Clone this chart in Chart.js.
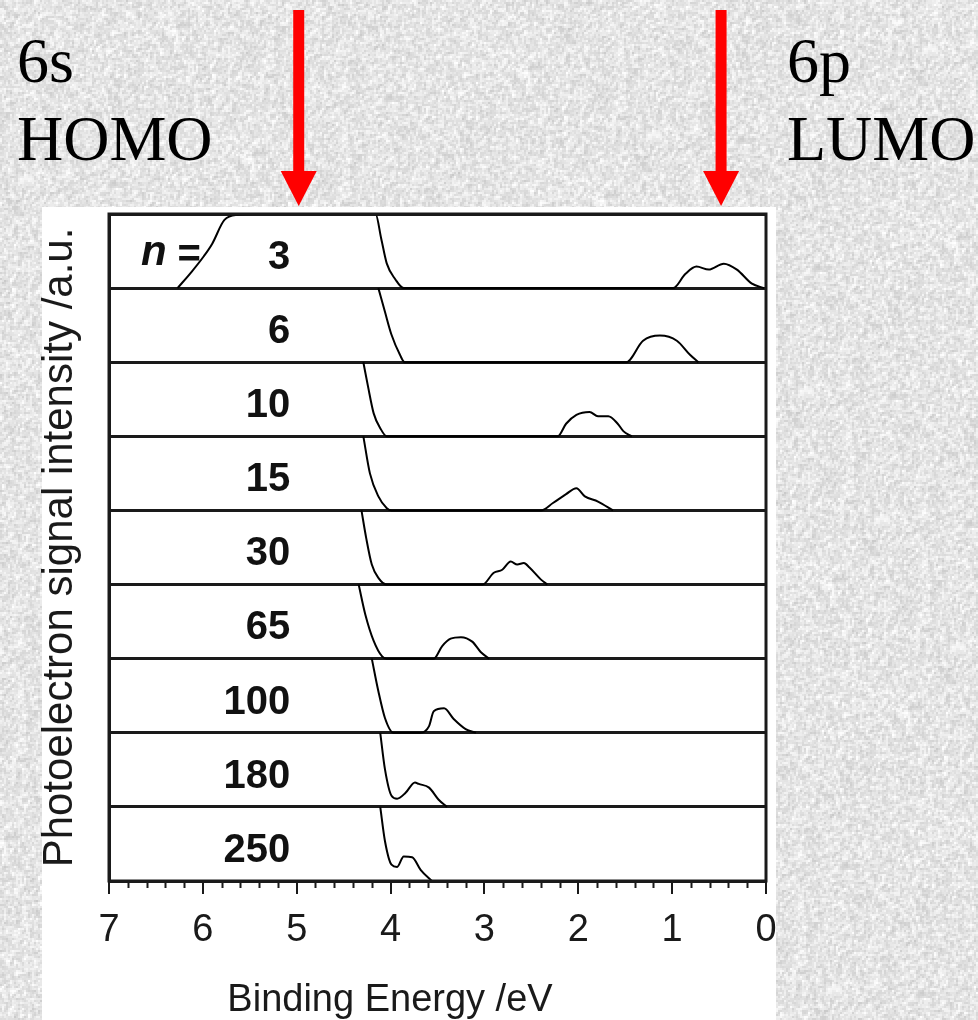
<!DOCTYPE html>
<html>
<head>
<meta charset="utf-8">
<script src="https://cdn.jsdelivr.net/npm/chart.js@4/dist/chart.umd.min.js"></script>
<style>
  html, body { margin: 0; padding: 0; background: #e6e6e6; }
  #wrap { position: relative; width: 978px; height: 1020px; }
</style>
</head>
<body>
<div id="wrap"><canvas id="pesChart" width="978" height="1020"></canvas></div>
<script>
// cluster sizes, top panel to bottom panel
const clusterSizes = [3, 6, 10, 15, 30, 65, 100, 180, 250];

// binding energy (eV) / normalised intensity for each spectrum
const be3 = [6.27, 6.12, 5.99, 5.9, 5.77, 5.62, 5.47, 4.16, 4.10, 4.04, 3.95, 3.86, 0.99, 0.86, 0.74, 0.61, 0.45, 0.31, 0.15, 0.02];
const in3 = [0, 0.22, 0.43, 0.6, 0.92, 0.99, 1.0, 1.0, 0.67, 0.33, 0.12, 0, 0, 0.19, 0.29, 0.25, 0.33, 0.25, 0.06, 0];
const be6 = [4.13, 4.06, 3.99, 3.90, 3.85, 1.49, 1.31, 1.13, 0.95, 0.81, 0.72];
const in6 = [1, 0.68, 0.37, 0.1, 0, 0, 0.29, 0.36, 0.29, 0.1, 0];
const be10 = [4.29, 4.24, 4.18, 4.11, 4.04, 2.22, 2.13, 2.02, 1.88, 1.79, 1.68, 1.58, 1.52, 1.43];
const in10 = [1, 0.67, 0.31, 0.11, 0, 0, 0.17, 0.29, 0.33, 0.27, 0.27, 0.17, 0.07, 0];
const be15 = [4.29, 4.22, 4.13, 4.04, 3.99, 2.40, 2.27, 2.13, 2.02, 1.93, 1.79, 1.63];
const in15 = [1, 0.5, 0.19, 0.03, 0, 0, 0.1, 0.22, 0.3, 0.19, 0.12, 0];
const be30 = [4.31, 4.26, 4.20, 4.13, 4.04, 3.02, 2.90, 2.81, 2.72, 2.65, 2.58, 2.52, 2.40, 2.33];
const in30 = [1, 0.63, 0.27, 0.09, 0, 0, 0.16, 0.2, 0.31, 0.27, 0.29, 0.23, 0.07, 0];
const be65 = [4.34, 4.27, 4.18, 4.09, 4.04, 3.54, 3.45, 3.36, 3.25, 3.13, 3.04, 2.95];
const in65 = [1, 0.6, 0.24, 0.03, 0, 0, 0.17, 0.27, 0.29, 0.23, 0.09, 0];
const be100 = [4.20, 4.13, 4.06, 3.97, 3.68, 3.59, 3.54, 3.43, 3.33, 3.20, 3.09];
const in100 = [1, 0.56, 0.2, 0, 0, 0.09, 0.29, 0.33, 0.19, 0.05, 0];
const be180 = [4.11, 4.06, 3.99, 3.93, 3.84, 3.74, 3.70, 3.59, 3.49, 3.40];
const in180 = [1, 0.51, 0.15, 0.11, 0.19, 0.33, 0.31, 0.26, 0.1, 0];
const be250 = [4.11, 4.06, 3.99, 3.93, 3.86, 3.77, 3.68, 3.56];
const in250 = [1, 0.54, 0.22, 0.19, 0.33, 0.32, 0.15, 0];

const energies = [be3, be6, be10, be15, be30, be65, be100, be180, be250];
const intensities = [in3, in6, in10, in15, in30, in65, in100, in180, in250];

// x axis ticks and the two orbital markers
const xTicks = [7, 6, 5, 4, 3, 2, 1, 0];
const homoEnergy = 5.0;
const lumoEnergy = 0.5;

const nPanels = clusterSizes.length;

// speckled grey page background (fixed seed so every render is the same)
function makeNoise(w, h) {
    const c = document.createElement('canvas');
    c.width = w; c.height = h;
    const g = c.getContext('2d');
    const img = g.createImageData(w, h);
    let seed = 12345;
    const rnd = () => { seed = (seed * 1103515245 + 12345) & 0x7fffffff; return seed / 0x7fffffff; };
    const cw = Math.ceil(w / 2) + 1, ch = Math.ceil(h / 2) + 1;
    const cell = new Float32Array(cw * ch);
    for (let i = 0; i < cell.length; i++) cell[i] = rnd();
    for (let y = 0; y < h; y++) {
        for (let x = 0; x < w; x++) {
            const cx = x >> 1, cy = y >> 1;
            const r = (cell[cy * cw + cx] * 2 + cell[cy * cw + cx + 1] + cell[(cy + 1) * cw + cx]) / 4;
            const v = Math.round(200 + r * 58);
            const k = (y * w + x) * 4;
            img.data[k] = v; img.data[k + 1] = v; img.data[k + 2] = v; img.data[k + 3] = 255;
        }
    }
    g.putImageData(img, 0, 0);
    return c;
}
const noise = makeNoise(978, 1020);

const decorPlugin = {
    id: 'decor',
    beforeDraw(chart) {
        const ctx = chart.ctx;
        ctx.save();
        ctx.drawImage(noise, 0, 0);
        ctx.fillStyle = '#ffffff';
        ctx.fillRect(42, 207, 734, 813);
        ctx.restore();
    },
    afterDraw(chart) {
        const ctx = chart.ctx;
        const xs = chart.scales.x;
        const ys = chart.scales.y;
        const area = chart.chartArea;
        ctx.save();

        // frame
        ctx.strokeStyle = '#1a1a1a';
        ctx.lineWidth = 3;
        ctx.strokeRect(area.left, area.top, area.right - area.left, area.bottom - area.top);

        // minor ticks every 0.2 eV
        ctx.lineWidth = 2;
        ctx.beginPath();
        for (let k = 0; k <= 35; k++) {
            if (k % 5 === 0) continue;
            const px = Math.round(xs.getPixelForValue(k / 5)) + 0.5;
            ctx.moveTo(px, area.bottom);
            ctx.lineTo(px, area.bottom + 7);
        }
        ctx.stroke();

        // x axis title (sits left of the axis centre in the original)
        ctx.fillStyle = '#1a1a1a';
        ctx.font = '38px "Liberation Sans", Arial, sans-serif';
        ctx.textAlign = 'center';
        ctx.textBaseline = 'alphabetic';
        ctx.fillText('Binding Energy /eV', 390, 1011);

        // cluster size labels
        ctx.fillStyle = '#111';
        ctx.font = 'bold 40px "Liberation Sans", Arial, sans-serif';
        ctx.textAlign = 'right';
        clusterSizes.forEach((n, i) => {
            const off = nPanels - 1 - i;
            ctx.fillText(String(n), xs.getPixelForValue(5.07), ys.getPixelForValue(off + 0.26));
        });
        ctx.textAlign = 'left';
        ctx.font = 'italic bold 42px "Liberation Sans", Arial, sans-serif';
        ctx.fillText('n', xs.getPixelForValue(6.66), ys.getPixelForValue(nPanels - 1 + 0.31));
        ctx.font = 'bold 40px "Liberation Sans", Arial, sans-serif';
        ctx.fillText('=', xs.getPixelForValue(6.27), ys.getPixelForValue(nPanels - 1 + 0.29));

        // red arrows for HOMO / LUMO
        ctx.fillStyle = '#ff0000';
        [homoEnergy, lumoEnergy].forEach(e => {
            const px = xs.getPixelForValue(e) + 2;
            ctx.fillRect(px - 5.5, 10, 11, 163);
            ctx.beginPath();
            ctx.moveTo(px - 18, 171);
            ctx.lineTo(px + 18, 171);
            ctx.lineTo(px, 206);
            ctx.closePath();
            ctx.fill();
        });

        // orbital captions
        ctx.fillStyle = '#000';
        ctx.font = '64px "Liberation Serif", "Times New Roman", serif';
        ctx.textAlign = 'left';
        ctx.fillText('6s', 17, 82);
        ctx.fillText('HOMO', 17, 160);
        ctx.fillText('6p', 787, 82);
        ctx.fillText('LUMO', 787, 160);
        ctx.restore();
    }
};

const datasets = energies.map((be, i) => {
    const off = nPanels - 1 - i;
    return {
        label: 'n = ' + clusterSizes[i],
        data: be.map((e, j) => ({ x: e, y: intensities[i][j] + off })),
        borderColor: '#000',
        borderWidth: 2,
        pointRadius: 0,
        fill: false,
        cubicInterpolationMode: 'monotone'
    };
});

new Chart(document.getElementById('pesChart'), {
    type: 'line',
    data: { datasets },
    plugins: [decorPlugin],
    options: {
        responsive: false,
        animation: false,
        layout: { padding: { top: 214, right: 212, left: 42, bottom: 0 } },
        plugins: { legend: { display: false }, tooltip: { enabled: false } },
        scales: {
            x: {
                type: 'linear',
                reverse: true,
                min: 0,
                max: 7,
                afterBuildTicks(scale) { scale.ticks = xTicks.map(v => ({ value: v })); },
                afterFit(scale) { scale.height = 1020 - 881; },
                grid: { drawOnChartArea: false, drawTicks: true, tickLength: 13, color: '#1a1a1a', lineWidth: 2 },
                border: { display: true, color: '#1a1a1a', width: 3 },
                ticks: {
                    color: '#1a1a1a',
                    padding: 14,
                    maxRotation: 0,
                    autoSkip: false,
                    font: { family: '"Liberation Sans", Arial, sans-serif', size: 38 }
                },
                title: { display: false }
            },
            y: {
                min: 0,
                max: nPanels,
                afterBuildTicks(scale) {
                    const t = [];
                    for (let k = 0; k <= nPanels; k++) t.push({ value: k });
                    scale.ticks = t;
                },
                afterFit(scale) { scale.width = 109 - 42; },
                grid: { drawTicks: false, color: '#1a1a1a', lineWidth: 3 },
                border: { display: true, color: '#1a1a1a', width: 3 },
                ticks: { display: false },
                title: {
                    display: true,
                    text: 'Photoelectron signal intensity /a.u.',
                    color: '#1a1a1a',
                    padding: { top: -7, bottom: 0 },
                    font: { family: '"Liberation Sans", Arial, sans-serif', size: 42, lineHeight: 1.2 }
                }
            }
        }
    }
});
</script>
</body>
</html>
